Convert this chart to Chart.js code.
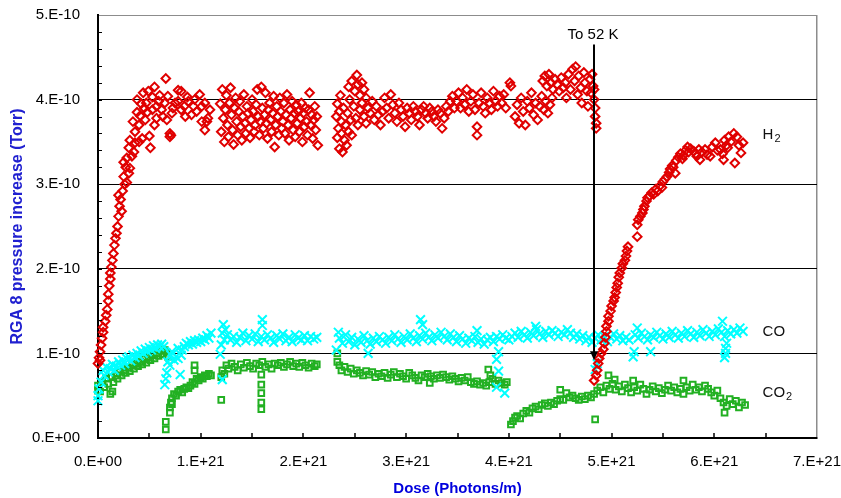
<!DOCTYPE html>
<html>
<head>
<meta charset="utf-8">
<script src="https://cdn.jsdelivr.net/npm/chart.js@4.4.0/dist/chart.umd.min.js"></script>
<style>
    html, body { margin: 0; padding: 0; background: #fff; }
    #chart { display: block; }
</style>
</head>
<body>
<canvas id="chart" width="841" height="498"></canvas>
<script>
// Dose in units of 1e21 photons/m, pressure in units of 1e-10 Torr
const doseTickLabels = ['0.E+00', '1.E+21', '2.E+21', '3.E+21', '4.E+21', '5.E+21', '6.E+21', '7.E+21'];
const pressureTickLabels = ['0.E+00', '1.E-10', '2.E-10', '3.E-10', '4.E-10', '5.E-10'];

const h2Points = [
    // first run: rise and plateau
    [0.00,0.88],[0.01,0.95],[0.02,0.92],[0.02,1.02],[0.03,1.10],[0.04,1.18],[0.05,1.25],[0.05,1.31],[0.07,1.38],[0.08,1.45],
    [0.09,1.52],[0.10,1.62],[0.10,1.70],[0.11,1.80],[0.12,1.88],[0.12,1.95],[0.13,2.02],[0.14,2.10],[0.15,2.18],[0.16,2.28],
    [0.17,2.36],[0.18,2.42],[0.19,2.50],[0.20,2.62],[0.21,2.74],[0.23,2.68],[0.20,2.87],[0.22,2.82],[0.24,2.92],[0.26,3.00],
    [0.28,3.02],[0.25,3.09],[0.30,3.13],[0.27,3.20],[0.25,3.26],[0.31,3.19],[0.28,3.31],[0.33,3.33],[0.30,3.43],[0.35,3.38],
    [0.36,3.49],[0.31,3.52],[0.40,3.50],[0.36,3.62],[0.43,3.54],[0.51,3.43],[0.50,3.57],[0.34,3.74],[0.40,3.70],[0.46,3.76],
    [0.41,3.81],[0.38,3.85],[0.38,4.00],[0.42,3.95],[0.45,3.90],[0.47,3.96],[0.44,4.08],[0.48,3.85],[0.49,4.10],[0.53,3.88],
    [0.53,4.03],[0.55,4.15],[0.55,3.70],[0.57,3.78],[0.57,3.92],[0.59,3.98],[0.60,4.05],[0.62,3.88],[0.63,3.80],[0.65,3.96],
    [0.66,4.25],[0.67,3.76],[0.68,4.04],[0.70,3.56],[0.70,3.60],[0.71,3.58],[0.72,3.84],[0.73,3.90],[0.75,3.96],[0.78,3.98],
    [0.78,4.11],[0.81,4.10],[0.81,3.88],[0.84,3.92],[0.85,3.80],[0.87,4.03],[0.88,3.98],[0.91,3.82],[0.93,3.92],[0.94,4.00],
    [0.96,3.86],[0.99,4.06],[1.01,3.92],[1.01,3.74],[1.04,3.96],[1.04,3.64],[1.06,3.74],[1.07,3.78],[1.09,3.88],
    // second block
    [1.19,3.95],[1.20,3.62],[1.21,4.12],[1.22,3.78],[1.23,3.50],[1.24,3.88],[1.25,4.05],[1.26,3.70],[1.27,3.56],[1.28,3.96],
    [1.29,4.14],[1.30,3.82],[1.31,3.64],[1.32,3.47],[1.33,3.90],[1.34,4.02],[1.35,3.74],[1.36,3.58],[1.37,3.86],[1.38,3.98],
    [1.39,3.68],[1.40,3.52],[1.41,3.80],[1.42,4.06],[1.43,3.72],[1.44,3.60],[1.45,3.92],[1.46,3.84],[1.47,3.66],[1.48,3.55],
    [1.49,3.76],[1.50,4.00],[1.51,3.86],[1.52,3.62],[1.53,3.70],[1.54,3.94],[1.55,4.12],[1.56,3.80],[1.57,3.58],[1.58,3.74],
    [1.59,4.15],[1.60,3.90],[1.61,3.66],[1.62,3.82],[1.63,4.08],[1.64,3.72],[1.65,3.54],[1.66,3.88],[1.67,3.96],[1.68,3.76],
    [1.69,3.62],[1.70,3.84],[1.71,4.04],[1.72,3.44],[1.73,3.70],[1.74,3.92],[1.75,3.80],[1.76,3.58],[1.77,4.02],[1.78,3.86],
    [1.79,3.66],[1.80,3.74],[1.81,3.96],[1.82,3.60],[1.83,3.82],[1.84,4.06],[1.85,3.70],[1.86,3.52],[1.87,3.88],[1.88,3.78],
    [1.89,3.98],[1.90,3.64],[1.91,3.84],[1.92,3.56],[1.93,3.94],[1.94,3.72],[1.95,3.86],[1.96,3.62],[1.97,3.78],[1.98,3.96],
    [1.99,3.50],[2.00,3.84],[2.01,3.68],[2.02,3.90],[2.03,3.74],[2.04,3.58],[2.05,3.88],[2.06,4.08],[2.07,3.70],[2.08,3.82],
    [2.09,3.54],[2.10,3.76],[2.11,3.92],[2.12,3.64],[2.13,3.80],[2.14,3.46],
    // third block
    [2.32,3.80],[2.33,3.55],[2.33,3.95],[2.34,3.66],[2.35,3.42],[2.35,3.86],[2.36,4.05],[2.37,3.60],[2.37,3.74],[2.38,3.38],
    [2.39,3.90],[2.40,3.52],[2.41,3.70],[2.42,3.46],[2.43,3.84],[2.44,3.62],[2.45,4.00],[2.46,3.76],[2.47,3.58],
    [2.44,4.15],[2.47,4.22],[2.50,4.10],[2.52,4.29],[2.53,4.18],[2.55,4.05],[2.57,4.20],[2.59,4.12],[2.61,4.02],
    [2.49,3.92],[2.51,3.78],[2.53,3.70],[2.55,3.88],[2.57,3.96],[2.59,3.80],[2.61,3.72],[2.63,3.90],[2.65,3.84],[2.67,3.98],
    [2.69,3.76],[2.71,3.92],[2.73,3.82],[2.75,3.70],[2.77,3.86],[2.79,4.02],[2.81,3.90],[2.83,3.78],[2.85,4.06],[2.87,3.94],
    [2.89,3.84],[2.91,3.74],[2.93,3.96],[2.95,3.88],[2.97,3.80],[2.99,3.68],[3.01,3.90],[3.03,3.84],[3.05,3.76],[3.07,3.92],
    [3.09,3.86],[3.11,3.80],[3.13,3.70],[3.15,3.88],[3.17,3.92],[3.19,3.84],[3.21,3.78],[3.23,3.90],[3.25,3.86],[3.27,3.80],
    [3.29,3.74],[3.31,3.88],[3.33,3.84],[3.35,3.66],[3.37,3.78],[3.39,3.92],[3.41,3.86],[3.43,3.98],[3.45,4.04],[3.47,3.90],
    [3.49,3.98],[3.51,4.08],[3.53,3.90],[3.55,4.02],[3.57,3.94],[3.59,4.12],[3.61,3.86],[3.63,3.98],[3.65,4.06],[3.67,3.88],
    [3.69,3.68],[3.69,3.58],[3.71,3.96],[3.73,4.08],[3.75,3.92],[3.77,3.84],[3.79,4.02],[3.81,3.96],[3.83,3.88],[3.85,4.10],
    [3.87,3.98],[3.89,3.92],[3.91,4.04],[3.93,3.96],[3.95,4.06],[3.97,3.90],[4.01,4.20],[4.02,4.16],
    [4.06,3.80],[4.08,3.94],[4.10,3.72],[4.12,4.02],[4.14,3.86],[4.16,3.70],[4.18,3.98],[4.20,3.90],[4.22,4.08],[4.24,3.82],
    [4.26,3.96],[4.28,3.76],[4.30,3.92],[4.32,4.04],[4.34,3.88],[4.36,3.98],[4.38,3.84],[4.40,3.94],[4.42,4.02],
    [4.33,4.22],[4.35,4.28],[4.37,4.16],[4.39,4.30],[4.41,4.20],[4.43,4.12],[4.45,4.24],[4.47,4.18],[4.49,4.10],[4.51,4.26],
    [4.53,4.14],[4.55,4.20],[4.56,4.02],[4.58,4.30],[4.60,4.12],[4.62,4.36],[4.64,4.22],[4.65,4.39],[4.67,4.06],[4.68,4.28],
    [4.70,4.14],[4.71,3.96],[4.73,4.32],[4.74,4.20],[4.76,4.10],[4.77,3.92],[4.79,4.24],[4.80,4.08],[4.81,4.30],[4.82,4.16],
    [4.83,4.00],[4.84,3.90],[4.84,3.80],[4.85,3.72],[4.85,3.66],[4.83,4.12],
    // after cooling to 52 K
    [4.83,0.68],[4.85,0.74],[4.86,0.80],[4.87,0.88],[4.88,0.94],[4.90,1.00],[4.92,1.05],[4.93,1.12],[4.94,1.19],[4.95,1.26],
    [4.95,1.32],[4.97,1.38],[4.97,1.44],[4.99,1.50],[5.00,1.56],[5.02,1.62],[5.03,1.66],[5.04,1.72],[5.05,1.78],[5.06,1.83],
    [5.07,1.90],[5.08,1.95],[5.10,2.01],[5.11,2.06],[5.13,2.10],[5.14,2.15],[5.15,2.21],[5.16,2.26],[5.25,2.38],[5.25,2.52],
    [5.26,2.58],[5.28,2.62],[5.30,2.66],[5.31,2.70],[5.32,2.74],[5.34,2.80],[5.35,2.84],[5.37,2.86],[5.39,2.90],[5.41,2.88],
    [5.43,2.94],[5.45,2.92],[5.47,2.98],[5.49,2.96],[5.50,3.03],[5.52,3.06],[5.54,3.09],[5.56,3.14],[5.57,3.18],[5.59,3.22],
    [5.60,3.20],[5.62,3.13],[5.63,3.28],[5.65,3.32],[5.67,3.36],[5.69,3.30],[5.70,3.34],[5.72,3.40],[5.74,3.44],[5.75,3.38],
    [5.77,3.42],[5.80,3.39],[5.82,3.36],[5.83,3.33],[5.85,3.41],[5.86,3.29],[5.88,3.38],[5.91,3.41],[5.93,3.35],[5.96,3.33],
    [5.98,3.44],[6.01,3.49],[6.03,3.40],[6.06,3.41],[6.08,3.36],[6.09,3.29],[6.10,3.52],[6.12,3.46],[6.13,3.43],[6.14,3.56],
    [6.16,3.50],[6.19,3.60],[6.20,3.25],[6.22,3.56],[6.24,3.46],[6.26,3.37],[6.28,3.49]
];

const coPoints = [
    [0.00,0.50],[0.00,0.44],[0.01,0.58],[0.03,0.66],[0.05,0.80],[0.06,0.74],[0.08,0.84],[0.10,0.78],[0.12,0.82],[0.14,0.87],
    [0.16,0.80],[0.18,0.85],[0.20,0.90],[0.22,0.86],[0.24,0.92],[0.26,0.88],[0.28,0.94],[0.30,0.96],[0.32,0.91],[0.34,0.98],
    [0.36,0.95],[0.38,1.00],[0.40,0.97],[0.42,1.03],[0.44,1.00],[0.46,1.05],[0.48,1.02],[0.50,1.07],[0.52,1.04],[0.54,1.09],
    [0.56,1.06],[0.58,1.10],[0.60,1.08],[0.62,1.11],[0.64,1.08],
    [0.65,0.63],[0.66,0.70],[0.67,0.77],[0.68,0.90],[0.70,0.86],[0.71,0.98],[0.72,1.02],[0.74,0.92],[0.76,0.96],[0.78,0.94],
    [0.78,1.06],[0.80,0.75],[0.81,0.98],[0.82,1.04],[0.84,1.08],[0.86,1.12],[0.88,1.10],[0.90,1.14],[0.92,1.11],[0.94,1.15],
    [0.96,1.13],[0.98,1.16],[1.00,1.14],[1.02,1.18],[1.04,1.16],[1.06,1.21],[1.08,1.18],[1.10,1.24],
    [1.19,0.99],[1.20,1.10],[1.21,1.24],[1.21,0.69],[1.22,1.34],[1.23,1.16],[1.24,1.28],[1.26,1.22],[1.29,1.16],[1.32,1.20],
    [1.35,1.13],[1.38,1.19],[1.41,1.24],[1.44,1.15],[1.47,1.21],[1.50,1.17],[1.53,1.23],[1.56,1.14],[1.59,1.20],[1.60,1.40],
    [1.60,1.33],[1.62,1.16],[1.65,1.22],[1.68,1.18],[1.71,1.13],[1.74,1.21],[1.77,1.17],[1.80,1.23],[1.83,1.15],[1.86,1.19],
    [1.89,1.14],[1.92,1.22],[1.95,1.18],[1.98,1.16],[2.01,1.21],[2.04,1.15],[2.07,1.20],[2.10,1.17],[2.13,1.19],
    [2.32,1.04],[2.35,1.18],[2.38,1.12],[2.41,1.22],[2.44,1.14],[2.47,1.19],[2.50,1.10],[2.53,1.17],[2.56,1.13],[2.59,1.21],
    [2.62,1.15],[2.65,1.11],[2.68,1.18],[2.71,1.14],[2.74,1.20],[2.77,1.16],[2.80,1.12],[2.83,1.19],[2.86,1.15],[2.89,1.22],
    [2.92,1.17],[2.95,1.13],[2.98,1.20],[3.01,1.16],[3.04,1.23],[3.07,1.18],[3.10,1.14],[3.13,1.21],[3.16,1.17],[3.19,1.24],
    [3.22,1.19],[3.25,1.15],[3.28,1.22],[3.31,1.18],[3.34,1.25],[3.37,1.20],[3.40,1.16],[3.43,1.23],[3.46,1.19],[3.49,1.14],
    [3.52,1.21],[3.55,1.17],[3.58,1.12],[3.61,1.18],[3.64,1.15],[3.67,1.20],[3.70,1.13],[3.73,1.17],[3.76,1.11],[3.79,1.16],
    [3.82,1.19],[3.85,1.14],[3.88,1.20],[3.91,1.17],[3.94,1.22],[3.97,1.18],
    [2.34,1.25],[2.63,1.00],[3.14,1.40],[3.16,1.34],[3.69,1.27],[3.88,0.93],[3.90,0.79],[3.88,0.60],[3.96,0.53],[3.90,1.02],
    [4.00,1.16],[4.03,1.20],[4.06,1.24],[4.09,1.19],[4.12,1.26],[4.15,1.22],[4.18,1.18],[4.21,1.25],[4.24,1.21],[4.27,1.28],
    [4.30,1.23],[4.33,1.19],[4.36,1.26],[4.39,1.22],[4.42,1.27],[4.45,1.24],[4.48,1.20],[4.51,1.25],[4.54,1.22],[4.57,1.28],
    [4.60,1.24],[4.63,1.19],[4.66,1.23],[4.69,1.17],[4.72,1.21],[4.75,1.15],[4.78,1.19],[4.81,1.13],[4.84,1.18],[4.87,1.22],
    [4.90,1.16],[4.93,1.20],[4.96,1.14],[4.99,1.19],[5.02,1.23],[5.05,1.17],[5.08,1.21],[5.11,1.15],[5.14,1.19],[5.17,1.16],
    [5.23,1.22],[5.26,1.18],[5.29,1.24],[5.32,1.20],[5.35,1.16],[5.38,1.22],[5.41,1.19],[5.44,1.25],[5.47,1.21],[5.50,1.17],
    [5.53,1.23],[5.56,1.19],[5.59,1.26],[5.62,1.22],[5.65,1.18],[5.68,1.24],[5.71,1.20],[5.74,1.27],[5.77,1.23],[5.80,1.19],
    [5.83,1.25],[5.86,1.21],[5.89,1.28],[5.92,1.24],[5.95,1.20],[5.98,1.26],[6.01,1.22],[6.04,1.29],[6.07,1.25],[6.10,1.20],
    [6.13,1.27],[6.16,1.23],[6.19,1.28],[6.22,1.24],[6.25,1.30],[6.28,1.26],
    [4.26,1.32],[4.84,0.81],[4.86,0.88],[5.21,0.96],[5.22,1.02],[5.25,1.30],[5.38,1.02],[6.08,1.38],[6.10,0.95],[6.11,1.00],
    [6.11,1.06],[6.12,1.12]
];

const co2Points = [
    [0.00,0.62],[0.00,0.56],[0.02,0.55],[0.04,0.66],[0.06,0.60],[0.08,0.70],[0.10,0.64],[0.12,0.52],[0.13,0.72],[0.14,0.55],
    [0.15,0.66],[0.17,0.74],[0.19,0.70],[0.21,0.78],[0.23,0.74],[0.25,0.80],[0.27,0.77],[0.29,0.83],[0.31,0.79],[0.33,0.86],
    [0.35,0.82],[0.37,0.88],[0.39,0.85],[0.41,0.90],[0.43,0.87],[0.45,0.93],[0.47,0.89],[0.49,0.95],[0.51,0.92],[0.53,0.98],
    [0.55,0.94],[0.57,1.00],[0.59,0.97],[0.61,1.03],[0.63,0.99],[0.65,1.04],[0.67,1.01],[0.68,0.96],
    [0.66,0.19],[0.66,0.10],[0.70,0.30],[0.70,0.36],[0.71,0.42],[0.72,0.47],[0.72,0.40],[0.74,0.52],[0.76,0.50],[0.78,0.55],
    [0.80,0.57],[0.82,0.54],[0.84,0.58],[0.86,0.60],[0.88,0.59],[0.90,0.62],[0.92,0.66],[0.94,0.64],[0.94,0.80],[0.94,0.86],
    [0.96,0.70],[0.98,0.68],[1.00,0.72],[1.02,0.70],[1.04,0.74],[1.06,0.73],[1.08,0.76],[1.10,0.74],
    [1.20,0.72],[1.20,0.45],[1.21,0.80],[1.23,0.76],[1.25,0.86],[1.27,0.82],[1.30,0.88],[1.33,0.84],[1.36,0.80],[1.39,0.87],
    [1.42,0.83],[1.45,0.89],[1.48,0.85],[1.51,0.82],[1.54,0.88],[1.57,0.86],[1.59,0.75],[1.59,0.63],[1.59,0.53],[1.59,0.42],
    [1.59,0.34],[1.60,0.90],[1.63,0.84],[1.66,0.87],[1.69,0.82],[1.72,0.88],[1.75,0.86],[1.78,0.89],[1.81,0.84],[1.84,0.87],
    [1.87,0.90],[1.90,0.85],[1.93,0.88],[1.96,0.84],[1.99,0.89],[2.02,0.86],[2.05,0.83],[2.08,0.88],[2.11,0.85],[2.13,0.87],
    [2.33,1.00],[2.33,0.90],[2.35,0.86],[2.37,0.80],[2.40,0.84],[2.43,0.78],[2.46,0.82],[2.49,0.76],[2.52,0.80],[2.55,0.77],
    [2.58,0.74],[2.61,0.79],[2.64,0.75],[2.67,0.78],[2.70,0.72],[2.73,0.76],[2.76,0.73],[2.79,0.77],[2.82,0.71],[2.85,0.75],
    [2.88,0.78],[2.91,0.72],[2.94,0.76],[2.97,0.73],[3.00,0.70],[3.03,0.77],[3.06,0.74],[3.09,0.71],[3.12,0.68],[3.15,0.74],
    [3.18,0.72],[3.21,0.76],[3.23,0.65],[3.24,0.73],[3.27,0.70],[3.30,0.74],[3.33,0.71],[3.36,0.75],[3.39,0.72],[3.42,0.69],
    [3.45,0.73],[3.48,0.70],[3.51,0.67],[3.54,0.71],[3.57,0.68],[3.60,0.72],[3.63,0.66],[3.66,0.64],[3.69,0.67],[3.72,0.63],
    [3.75,0.65],[3.78,0.62],[3.80,0.81],[3.81,0.66],[3.82,0.74],[3.84,0.70],[3.87,0.64],[3.90,0.68],[3.93,0.65],[3.96,0.63],
    [3.98,0.66],
    [4.02,0.16],[4.04,0.20],[4.06,0.24],[4.08,0.26],[4.11,0.23],[4.14,0.29],[4.17,0.32],[4.20,0.30],[4.23,0.35],[4.26,0.37],
    [4.29,0.34],[4.32,0.39],[4.35,0.41],[4.38,0.38],[4.41,0.42],[4.44,0.40],[4.47,0.44],[4.50,0.46],[4.50,0.57],[4.53,0.45],
    [4.56,0.53],[4.59,0.48],[4.62,0.50],[4.65,0.47],[4.68,0.45],[4.71,0.49],[4.74,0.46],[4.77,0.50],[4.80,0.48],[4.83,0.52],
    [4.84,0.22],[4.86,0.56],[4.89,0.60],[4.92,0.54],[4.95,0.62],[4.97,0.74],[4.98,0.58],[5.01,0.64],[5.03,0.69],[5.04,0.57],
    [5.07,0.61],[5.10,0.55],[5.13,0.63],[5.16,0.59],[5.19,0.54],[5.21,0.68],[5.22,0.60],[5.25,0.56],[5.28,0.63],[5.31,0.58],
    [5.34,0.52],[5.37,0.57],[5.40,0.61],[5.43,0.55],[5.46,0.59],[5.49,0.53],[5.52,0.57],[5.55,0.62],[5.58,0.56],[5.61,0.60],
    [5.64,0.54],[5.67,0.58],[5.70,0.68],[5.70,0.52],[5.73,0.60],[5.76,0.56],[5.79,0.63],[5.82,0.57],[5.85,0.60],[5.88,0.55],
    [5.91,0.62],[5.94,0.58],[5.97,0.54],[6.00,0.50],[6.03,0.56],[6.06,0.47],[6.09,0.42],[6.10,0.30],[6.12,0.38],[6.15,0.46],
    [6.18,0.40],[6.21,0.44],[6.24,0.36],[6.27,0.42],[6.30,0.39]
];

// cooling step marked with an arrow
const coolingDose = 4.83;
const coolingArrowTop = 4.65;
const coolingArrowTip = 0.92;
const coolingLabel = 'To 52 K';

const seriesLabels = [
    { main: 'H', sub: '2', dose: 6.47, pressure: 3.58 },
    { main: 'CO', sub: '', dose: 6.47, pressure: 1.25 },
    { main: 'CO', sub: '2', dose: 6.47, pressure: 0.53 }
];

const fontFamily = "'Liberation Sans', Arial, Helvetica, sans-serif";

function toXY(points) {
    return points.map(p => ({ x: p[0], y: p[1] }));
}

// inner tick marks, the cooling arrow and series labels
const annotationPlugin = {
    id: 'annotations',
    afterDraw(chart) {
        const { ctx, chartArea } = chart;
        const xs = chart.scales.x;
        const ys = chart.scales.y;
        ctx.save();

        ctx.strokeStyle = '#000';
        ctx.lineWidth = 1.5;
        ctx.beginPath();
        for (let i = 1; i < 14; i++) {
            const px = Math.round(xs.getPixelForValue(i * 0.5));
            ctx.moveTo(px, chartArea.bottom);
            ctx.lineTo(px, chartArea.bottom - 5);
        }
        ctx.stroke();
        ctx.lineWidth = 1;
        ctx.beginPath();
        for (let i = 1; i < 25; i++) {
            const py = Math.round(ys.getPixelForValue(i * 0.2)) + 0.5;
            ctx.moveTo(chartArea.left, py);
            ctx.lineTo(chartArea.left + 4, py);
        }
        ctx.stroke();

        // arrow
        const ax = Math.round(xs.getPixelForValue(coolingDose));
        const top = ys.getPixelForValue(coolingArrowTop);
        const tip = ys.getPixelForValue(coolingArrowTip);
        ctx.lineWidth = 2;
        ctx.beginPath();
        ctx.moveTo(ax, top);
        ctx.lineTo(ax, tip - 6);
        ctx.stroke();
        ctx.fillStyle = '#000';
        ctx.beginPath();
        ctx.moveTo(ax - 4, tip - 9);
        ctx.lineTo(ax + 4, tip - 9);
        ctx.lineTo(ax, tip);
        ctx.closePath();
        ctx.fill();

        ctx.font = '15px ' + fontFamily;
        ctx.textAlign = 'center';
        ctx.textBaseline = 'alphabetic';
        ctx.fillText(coolingLabel, ax - 1, top - 6);

        // series names
        seriesLabels.forEach(lbl => {
            const lx = xs.getPixelForValue(lbl.dose);
            const ly = ys.getPixelForValue(lbl.pressure);
            ctx.textAlign = 'left';
            ctx.textBaseline = 'middle';
            ctx.font = '15px ' + fontFamily;
            ctx.fillStyle = '#111';
            ctx.fillText(lbl.main, lx, ly);
            if (lbl.sub) {
                const w = ctx.measureText(lbl.main).width;
                ctx.font = '11px ' + fontFamily;
                ctx.fillText(lbl.sub, lx + w + 1, ly + 4);
            }
        });
        ctx.restore();
    }
};

const ctx = document.getElementById('chart');

new Chart(ctx, {
    type: 'scatter',
    data: {
        datasets: [{
            label: 'H2',
            data: toXY(h2Points),
            pointStyle: 'rectRot',
            pointRadius: 4.3,
            pointBorderWidth: 2,
            pointBorderColor: '#e00000',
            pointBackgroundColor: 'rgba(0,0,0,0)',
            clip: false,
            order: 1
        }, {
            label: 'CO',
            data: toXY(coPoints),
            pointStyle: 'crossRot',
            pointRadius: 6.2,
            pointBorderWidth: 2,
            pointBorderColor: '#00ffff',
            pointBackgroundColor: '#00ffff',
            clip: false,
            order: 2
        }, {
            label: 'CO2',
            data: toXY(co2Points),
            pointStyle: 'rect',
            pointRadius: 4,
            pointBorderWidth: 2,
            pointBorderColor: '#22b022',
            pointBackgroundColor: 'rgba(0,0,0,0)',
            clip: false,
            order: 3
        }]
    },
    options: {
        responsive: false,
        animation: false,
        layout: { padding: { top: 15, right: 24, left: 0, bottom: 0 } },
        plugins: {
            legend: { display: false },
            tooltip: { enabled: false }
        },
        scales: {
            x: {
                type: 'linear',
                min: 0,
                max: 7,
                ticks: {
                    stepSize: 1,
                    padding: 15,
                    maxRotation: 0,
                    autoSkip: false,
                    color: '#000',
                    font: { family: fontFamily, size: 15 },
                    callback: v => doseTickLabels[v] || ''
                },
                grid: {
                    drawTicks: false,
                    lineWidth: 1.5,
                    color: c => (c.tick && c.tick.value === 7) ? '#8c8c8c' : 'rgba(0,0,0,0)'
                },
                border: { color: '#000', width: 2 },
                title: {
                    display: true,
                    text: 'Dose (Photons/m)',
                    color: '#0000dd',
                    font: { family: fontFamily, size: 15, weight: 'bold' },
                    padding: { top: 0, bottom: 0 }
                },
                afterFit: s => { s.height = 60; s.paddingLeft = 0; s.paddingRight = 0; }
            },
            y: {
                min: 0,
                max: 5,
                ticks: {
                    stepSize: 1,
                    padding: 18,
                    color: '#000',
                    font: { family: fontFamily, size: 15 },
                    callback: v => pressureTickLabels[v] || ''
                },
                grid: {
                    drawTicks: false,
                    lineWidth: 1,
                    color: c => {
                        if (!c.tick) return 'rgba(0,0,0,0)';
                        if (c.tick.value === 5) return '#8c8c8c';
                        if (c.tick.value === 0) return 'rgba(0,0,0,0)';
                        return '#000';
                    }
                },
                border: { color: '#000', width: 2 },
                title: {
                    display: true,
                    text: 'RGA 8 pressure increase (Torr)',
                    color: '#2020d0',
                    font: { family: fontFamily, size: 16, weight: 'bold' },
                    padding: { top: 8, bottom: 0 }
                },
                afterFit: s => { s.width = 98; s.paddingTop = 0; s.paddingBottom = 0; }
            }
        }
    },
    plugins: [annotationPlugin]
});
</script>
</body>
</html>
